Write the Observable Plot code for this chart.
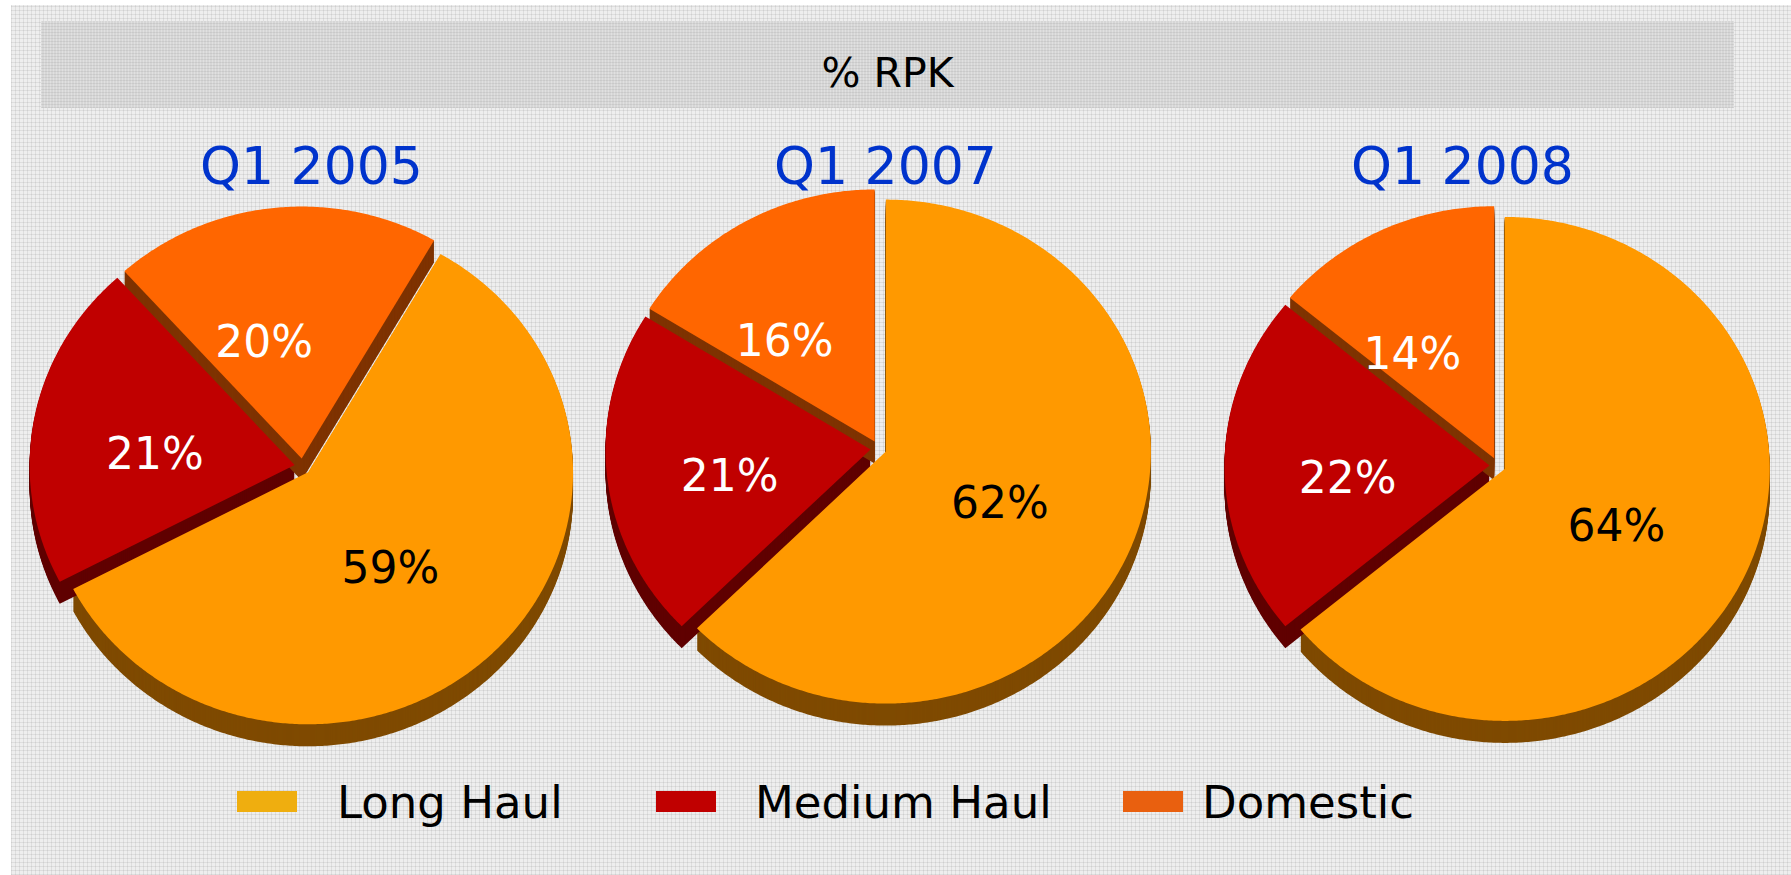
<!DOCTYPE html>
<html>
<head>
<meta charset="utf-8">
<script src="https://cdn.jsdelivr.net/npm/d3@7"></script>
<script src="https://cdn.jsdelivr.net/npm/@observablehq/plot@0.6"></script>
<style>
  html, body { margin: 0; padding: 0; background: #ffffff; }
  body { width: 1791px; height: 875px; overflow: hidden; position: relative; font-family: "DejaVu Sans", Verdana, sans-serif; }
  #panel {
    position: absolute; left: 11px; top: 5px; width: 1780px; height: 870px;
    background-color: #eeeeee;
    background-image:
      repeating-linear-gradient(0deg, rgba(0,0,0,0.07) 0px, rgba(0,0,0,0.07) 1px, transparent 1px, transparent 4px),
      repeating-linear-gradient(90deg, rgba(0,0,0,0.07) 0px, rgba(0,0,0,0.07) 1px, transparent 1px, transparent 4px);
  }
  #titlebar {
    position: absolute; left: 41px; top: 21px; width: 1693px; height: 87px;
    background-color: #d6d6d6;
    background-image:
      repeating-linear-gradient(0deg, rgba(0,0,0,0.06) 0px, rgba(0,0,0,0.06) 1px, transparent 1px, transparent 3px),
      repeating-linear-gradient(90deg, rgba(255,255,255,0.25) 0px, rgba(255,255,255,0.25) 1px, transparent 1px, transparent 3px);
    display: flex; align-items: center; justify-content: center;
    font-size: 41px; color: #000;
  }
  #chart { position: absolute; left: 0; top: 0; }
  .lg-sw { position: absolute; width: 60px; height: 21px; }
  .lg-tx { position: absolute; font-size: 45px; line-height: 1; color: #000; white-space: nowrap; }
</style>
</head>
<body>
<div id="panel"></div>
<div id="titlebar"><span style="position:relative;top:8px">% RPK</span></div>
<div id="chart"></div>
<div id="legend"></div>
<script>
// ---------------- data ----------------
const periods = ["Q1 2005", "Q1 2007", "Q1 2008"];
const categories = ["Long Haul", "Medium Haul", "Domestic"];
const longHaul = [59, 62, 64];
const mediumHaul = [21, 21, 22];
const domestic = [20, 16, 14];

// ---------------- layout / style ----------------
const W = 1791, H = 875;
const pieCenters = [[302, 466], [878, 448], [1497, 465]];
const pieRotationDeg = [30, 0, 0];
const titleX = [311, 885, 1462];
const titleY = 167;
const RX = 265, RY = 252, EXPLODE = 8, DEPTH = 22, LABEL_R = 0.52;
const labelNudge = {"Long Haul": [-13, 2], "Medium Haul": [-4, 13], "Domestic": [-23, 15]};
const FONT = "DejaVu Sans, Verdana, sans-serif";

const topColor = {"Long Haul": "#FF9900", "Medium Haul": "#C00000", "Domestic": "#FF6600"};
const wallColor = {"Long Haul": "#7F4A00", "Medium Haul": "#600000", "Domestic": "#7F3300"};
const legendColor = {"Long Haul": "#EFAE0F", "Medium Haul": "#C00000", "Domestic": "#E9600F"};
const series = {"Long Haul": longHaul, "Medium Haul": mediumHaul, "Domestic": domestic};

// ---------------- geometry from values ----------------
const slices = [];
periods.forEach((p, i) => {
  const vals = categories.map(c => series[c][i]);
  const rot = pieRotationDeg[i] * Math.PI / 180;
  const arcs = d3.pie().sort(null).startAngle(rot).endAngle(rot + 2 * Math.PI)(vals);
  arcs.forEach((a, k) => {
    const mid = (a.startAngle + a.endAngle) / 2;
    slices.push({
      period: p, category: categories[k], value: a.value,
      a0: a.startAngle, a1: a.endAngle, mid,
      vx: pieCenters[i][0] + EXPLODE * Math.sin(mid),
      vy: pieCenters[i][1] - EXPLODE * Math.cos(mid)
    });
  });
});

function outline(s, dy, gid) {
  const pts = [{x: s.vx, y: s.vy + dy, gid, category: s.category}];
  const n = Math.max(2, Math.ceil((s.a1 - s.a0) / (Math.PI / 360)));
  for (let j = 0; j <= n; j++) {
    const a = s.a0 + (s.a1 - s.a0) * j / n;
    pts.push({x: s.vx + RX * Math.sin(a), y: s.vy + dy - RY * Math.cos(a), gid, category: s.category});
  }
  return pts;
}

const wallPts = [], topPts = [];
slices.forEach(s => {
  for (let d = DEPTH; d >= 1; d--) wallPts.push(...outline(s, d, `${s.period}|${s.category}|${d}`));
  topPts.push(...outline(s, 0, `${s.period}|${s.category}|top`));
});

const labelX = d => d.vx + LABEL_R * RX * Math.sin(d.mid) + labelNudge[d.category][0];
const labelY = d => d.vy - LABEL_R * RY * Math.cos(d.mid) + labelNudge[d.category][1];

const chart = Plot.plot({
  width: W, height: H, margin: 0,
  x: {domain: [0, W], range: [0, W], axis: null},
  y: {domain: [0, H], range: [0, H], axis: null},
  style: {background: "transparent", overflow: "visible"},
  marks: [
    ...categories.map(c => Plot.line(wallPts.filter(d => d.category === c),
      {x: "x", y: "y", z: "gid", fill: wallColor[c], stroke: "none"})),
    ...categories.map(c => Plot.line(topPts.filter(d => d.category === c),
      {x: "x", y: "y", z: "gid", fill: topColor[c], stroke: "none"})),
    Plot.text(slices.filter(d => d.category === "Long Haul"),
      {x: labelX, y: labelY, text: d => d.value + "%", fill: "#000000", fontSize: 44, fontFamily: FONT}),
    Plot.text(slices.filter(d => d.category !== "Long Haul"),
      {x: labelX, y: labelY, text: d => d.value + "%", fill: "#ffffff", fontSize: 44, fontFamily: FONT}),
    Plot.text(periods, {x: (d, i) => titleX[i], y: () => titleY, text: d => d,
      fill: "#0033CC", fontSize: 52, fontFamily: FONT})
  ]
});
document.getElementById("chart").appendChild(chart);

// ---------------- legend ----------------
const legendSw = [237, 656, 1123];
const legendTx = [337, 755, 1202];
const legend = document.getElementById("legend");
categories.forEach((c, i) => {
  const sw = document.createElement("div");
  sw.className = "lg-sw";
  sw.style.left = legendSw[i] + "px";
  sw.style.top = "791px";
  sw.style.background = legendColor[c];
  legend.appendChild(sw);
  const tx = document.createElement("div");
  tx.className = "lg-tx";
  tx.style.left = legendTx[i] + "px";
  tx.style.top = "780px";
  tx.textContent = c;
  legend.appendChild(tx);
});
</script>
</body>
</html>
